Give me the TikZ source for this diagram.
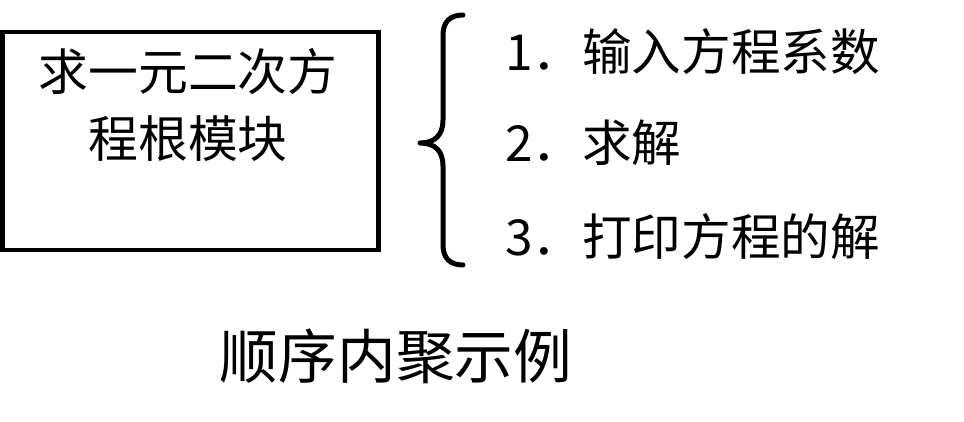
\documentclass[tikz,border=0pt]{standalone}
\usepackage{fontspec}
\newfontfamily\cjk{Noto Sans CJK SC}
\begin{document}
\begin{tikzpicture}[x=1pt,y=-1pt,
  modbox/.style={draw=black,line width=4.5pt,minimum width=376pt,minimum height=218pt,inner sep=0pt},
  boxtext/.style={font=\cjk\fontsize{49.8pt}{58pt}\selectfont,inner sep=0pt},
  itemtext/.style={font=\cjk\fontsize{49.6pt}{58pt}\selectfont,inner sep=0pt,anchor=west},
  titletext/.style={font=\cjk\fontsize{58.7pt}{68pt}\selectfont,inner sep=0pt},
  bracestyle/.style={line width=5pt,line cap=round,line join=round}]
\useasboundingbox (0,0) rectangle (964,422);
\node[modbox] (box) at (190.5,141) {};
\node[boxtext] (l1) at (188,72) {求一元二次方};
\node[boxtext] (l2) at (188,139) {程根模块};
\draw[bracestyle] (463,15) .. controls (450,15) and (443,22) .. (443,35) -- (443,120)
  .. controls (443,135) and (435,143) .. (420,143)
  .. controls (435,143) and (443,151) .. (443,166) -- (443,245)
  .. controls (443,258) and (450,265) .. (463,265);
\node[itemtext] (i1) at (505,52) {1．输入方程系数};
\node[itemtext] (i2) at (505,143) {2．求解};
\node[itemtext] (i3) at (505,237) {3．打印方程的解};
\node[titletext] (t) at (396,356) {顺序内聚示例};
\end{tikzpicture}
\end{document}
